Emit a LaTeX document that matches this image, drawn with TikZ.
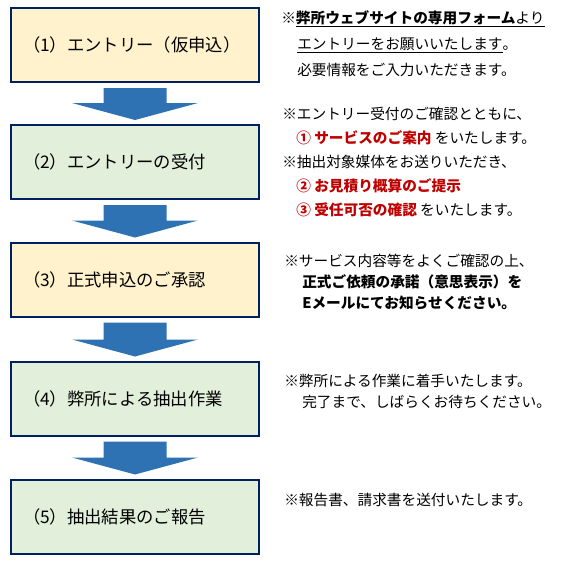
\documentclass[tikz,border=0pt]{standalone}
\usepackage{fontspec}
\setmainfont{Noto Sans CJK JP}
\usetikzlibrary{calc}

\definecolor{stepyellow}{RGB}{255,242,204}
\definecolor{stepgreen}{RGB}{226,239,218}
\definecolor{stepline}{RGB}{0,32,96}
\definecolor{flowblue}{RGB}{46,114,180}
\definecolor{notered}{RGB}{192,0,0}

\tikzset{
  stepbox/.style={draw=stepline, line width=1.5pt, minimum height=55.5pt,
    text width=168pt, inner xsep=9pt, align=left,
    font=\fontsize{13}{15}\selectfont},
  note/.style={anchor=base west, inner sep=0pt, align=left},
}

% block arrow between two steps
\newcommand{\flowarrow}[2]{%
  \fill[flowblue] ($(#1.south)+(-31.5,5)$) -- ($(#1.south)+(31.5,5)$)
    -- ($(#2.north)+(31.5,-21)$) -- ($(#2.north)+(63,-21)$)
    -- ($(#2.north)+(0,-4)$)
    -- ($(#2.north)+(-63,-21)$) -- ($(#2.north)+(-31.5,-21)$) -- cycle;}

\begin{document}
\begin{tikzpicture}[x=0.75pt,y=0.75pt,yscale=-1,xscale=1]
\useasboundingbox (0,0) rectangle (566,569);

% Steps
\node[stepbox, fill=stepyellow] (step1) at (135,45) {（1）エントリー（仮申込）};
\node[stepbox, fill=stepgreen] (step2) at (135,162) {（2）エントリーの受付};
\node[stepbox, fill=stepyellow] (step3) at (135,279.5) {（3）正式申込のご承認};
\node[stepbox, fill=stepgreen] (step4) at (135,398.5) {（4）弊所による抽出作業};
\node[stepbox, fill=stepgreen] (step5) at (135,516.5) {（5）抽出結果のご報告};

% Arrows
\flowarrow{step1}{step2}
\flowarrow{step2}{step3}
\flowarrow{step3}{step4}
\flowarrow{step4}{step5}

% Text Node (anchored at the baseline of the last line)
\node[note, font=\fontsize{11}{19.5}\selectfont] (note1) at (281,75)
  {※\underline{\textbf{弊所ウェブサイトの専用フォーム}より}\\
   \hspace*{12pt}\underline{エントリーをお願いいたします}。\\
   \hspace*{12pt}必要情報をご入力いただきます。};
% Text Node
\node[note, font=\fontsize{11}{18}\selectfont] (note2) at (282,215)
  {※エントリー受付のご確認とともに、\\
   \hspace*{10.5pt}\textcolor{notered}{\textbf{① サービスのご案内}} をいたします。\\
   ※抽出対象媒体をお送りいただき、\\
   \hspace*{10.5pt}\textcolor{notered}{\textbf{② お見積り概算のご提示}}\\
   \hspace*{10.5pt}\textcolor{notered}{\textbf{③ 受任可否の確認}} をいたします。};
% Text Node
\node[note, font=\fontsize{11}{15.5}\selectfont] (note3) at (284,308)
  {※サービス内容等をよくご確認の上、\\
   \hspace*{13.5pt}\textbf{正式ご依頼の承諾（意思表示）を}\\
   \hspace*{13.5pt}\textbf{Eメールにてお知らせください。}};
% Text Node
\node[note, font=\fontsize{11}{15.5}\selectfont] (note4) at (284,407)
  {※弊所による作業に着手いたします。\\
   \hspace*{13.5pt}完了まで、しばらくお待ちください。};
% Text Node
\node[note, font=\fontsize{11}{15.5}\selectfont] (note5) at (284,505)
  {※報告書、請求書を送付いたします。};

\end{tikzpicture}
\end{document}
